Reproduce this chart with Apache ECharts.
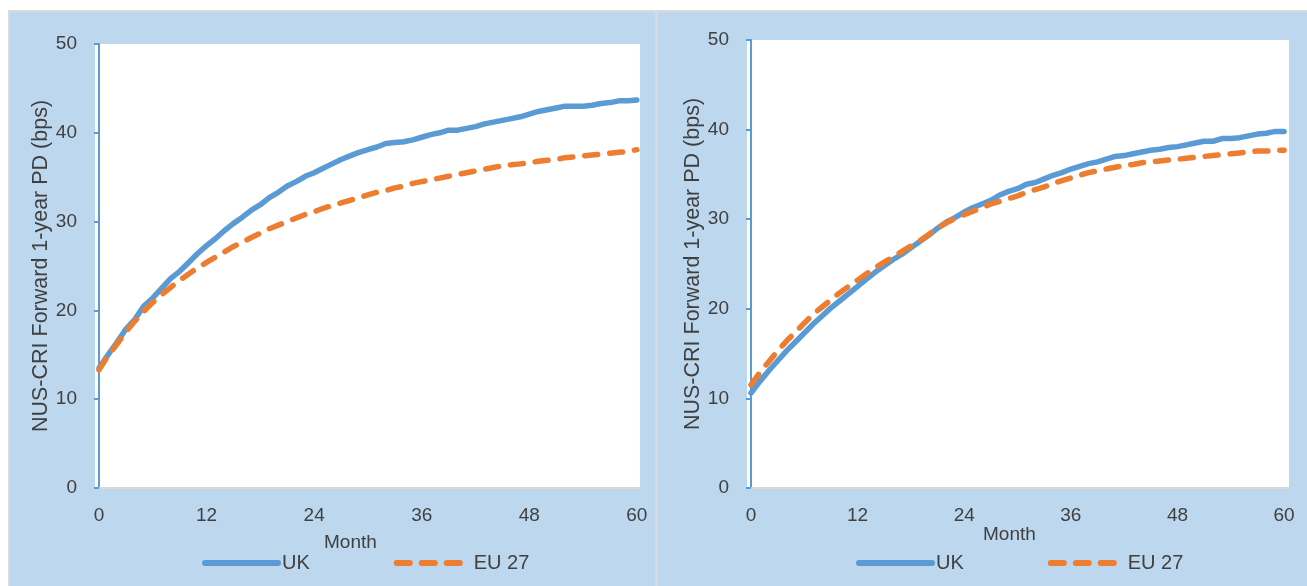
<!DOCTYPE html>
<html>
<head>
<meta charset="utf-8">
<title>NUS-CRI Forward 1-year PD</title>
<script src="https://cdn.jsdelivr.net/npm/echarts@6/dist/echarts.min.js"></script>
<style>
  html, body { margin: 0; padding: 0; background: #ffffff; }
  #chart { width: 1307px; height: 586px; }
</style>
</head>
<body>
<div id="chart"></div>
<script>
// Forward 1-year PD term structure (bps), month 0..60
const months = Array.from({ length: 61 }, (_, i) => i);
const monthTicks = [0, 12, 24, 36, 48, 60];
const pdTicks = [0, 10, 20, 30, 40, 50];

const leftUK = [
  13.5, 15.0, 16.4, 17.9, 19.0, 20.5, 21.4, 22.5, 23.6, 24.4,
  25.4, 26.4, 27.3, 28.1, 29.0, 29.8, 30.5, 31.3, 31.9, 32.7,
  33.3, 34.0, 34.5, 35.1, 35.5, 36.0, 36.5, 37.0, 37.4, 37.8,
  38.1, 38.4, 38.8, 38.9, 39.0, 39.2, 39.5, 39.8, 40.0, 40.3,
  40.3, 40.5, 40.7, 41.0, 41.2, 41.4, 41.6, 41.8, 42.1, 42.4,
  42.6, 42.8, 43.0, 43.0, 43.0, 43.1, 43.3, 43.4, 43.6, 43.6,
  43.7
];
const leftEU27 = [
  13.3, 14.9, 16.2, 17.6, 18.8, 19.9, 20.9, 21.8, 22.6, 23.4,
  24.1, 24.8, 25.4, 26.0, 26.6, 27.2, 27.7, 28.2, 28.7, 29.2,
  29.6, 30.0, 30.4, 30.8, 31.1, 31.5, 31.8, 32.1, 32.4, 32.7,
  33.0, 33.3, 33.5, 33.8, 34.0, 34.3, 34.5, 34.7, 34.9, 35.1,
  35.3, 35.5, 35.7, 35.9, 36.1, 36.3, 36.4, 36.5, 36.6, 36.8,
  36.9, 37.0, 37.2, 37.3, 37.4, 37.5, 37.6, 37.7, 37.8, 37.9,
  38.1
];
const rightUK = [
  10.6, 11.9, 13.1, 14.2, 15.3, 16.3, 17.3, 18.3, 19.2, 20.1,
  20.9, 21.7, 22.5, 23.3, 24.1, 24.8, 25.5, 26.1, 26.8, 27.5,
  28.2, 29.0, 29.7, 30.2, 30.8, 31.3, 31.7, 32.1, 32.7, 33.1,
  33.4, 33.9, 34.1, 34.5, 34.9, 35.2, 35.6, 35.9, 36.2, 36.4,
  36.7, 37.0, 37.1, 37.3, 37.5, 37.7, 37.8, 38.0, 38.1, 38.3,
  38.5, 38.7, 38.7, 39.0, 39.0, 39.1, 39.3, 39.5, 39.6, 39.8,
  39.8
];
const rightEU27 = [
  11.5, 12.9, 14.1, 15.3, 16.4, 17.4, 18.4, 19.4, 20.2, 21.0,
  21.8, 22.5, 23.2, 23.9, 24.6, 25.2, 25.8, 26.4, 27.0, 27.6,
  28.3, 29.0, 29.6, 30.1, 30.5, 30.9, 31.3, 31.7, 32.0, 32.3,
  32.6, 33.0, 33.3, 33.6, 34.0, 34.3, 34.6, 34.9, 35.2, 35.4,
  35.6, 35.8, 36.0, 36.1, 36.3, 36.4, 36.5, 36.6, 36.7, 36.8,
  36.9, 37.0, 37.1, 37.2, 37.3, 37.4, 37.5, 37.6, 37.6, 37.7,
  37.7
];

const seriesNames = ['UK', 'EU 27'];
const yTitle = 'NUS-CRI Forward 1-year PD (bps)';
const xTitle = 'Month';

const FONT = '"Liberation Sans", Arial, sans-serif';
const TEXT = '#404040';
const BLUE = '#5B9BD5';
const ORANGE = '#ED7D31';
const PANEL = '#BDD7EE';
const BORDER = '#D9D9D9';

const pairs = (ys) => ys.map((y, i) => [months[i], y]);

function xAxisFor(gridIndex, min, max) {
  return {
    gridIndex, type: 'value', min, max,
    axisLine: { show: true, lineStyle: { color: BORDER, width: 2 } },
    axisTick: { show: false },
    splitLine: { show: false },
    axisLabel: {
      customValues: monthTicks, margin: 18,
      color: TEXT, fontFamily: FONT, fontSize: 19
    }
  };
}
function yAxisFor(gridIndex, nameGap) {
  return {
    gridIndex, type: 'value', min: 0, max: 50, interval: 10,
    name: yTitle, nameLocation: 'middle', nameGap,
    nameTextStyle: { color: TEXT, fontFamily: FONT, fontSize: 21.5 },
    axisLine: { show: true, lineStyle: { color: BLUE, width: 2 } },
    axisTick: { show: true, inside: false, length: 5, lineStyle: { color: BLUE, width: 2 } },
    splitLine: { show: false },
    axisLabel: {
      margin: 18, color: TEXT, fontFamily: FONT, fontSize: 19,
      formatter: (v) => pdTicks.includes(v) ? String(v) : ''
    }
  };
}
function lineSeries(name, data, axisIndex, dashed) {
  return {
    name, type: 'line', data,
    xAxisIndex: axisIndex, yAxisIndex: axisIndex,
    symbol: 'none', smooth: false, silent: true,
    lineStyle: dashed
      ? { color: ORANGE, width: 5.5, type: [13, 12], cap: 'round' }
      : { color: BLUE, width: 5.5, cap: 'round', join: 'round' },
    itemStyle: { color: dashed ? ORANGE : BLUE },
    z: dashed ? 3 : 2
  };
}
function legendFor(left) {
  return {
    left, top: 553, orient: 'horizontal', padding: 0,
    data: seriesNames,
    itemWidth: 73, itemHeight: 14, itemGap: 84,
    itemStyle: { opacity: 0 },
    lineStyle: { width: 6 },
    textStyle: { color: TEXT, fontFamily: FONT, fontSize: 20, padding: [0, 0, 0, -1] },
    selectedMode: false
  };
}

const chart = echarts.init(document.getElementById('chart'), null, { renderer: 'canvas' });
chart.setOption({
  animation: false,
  backgroundColor: '#ffffff',
  graphic: [
    { type: 'rect', z: -100, shape: { x: 8, y: 10, width: 1299, height: 576 }, style: { fill: BORDER } },
    { type: 'rect', z: -99, shape: { x: 10, y: 12, width: 1297, height: 574 }, style: { fill: PANEL } },
    { type: 'rect', z: -98, shape: { x: 655, y: 12, width: 3, height: 574 }, style: { fill: BORDER } },
    { type: 'text', z: 10, left: 324, top: 533, style: { text: xTitle, fill: TEXT, font: '19px ' + FONT } },
    { type: 'text', z: 10, left: 983, top: 525, style: { text: xTitle, fill: TEXT, font: '19px ' + FONT } }
  ],
  grid: [
    { left: 95, top: 44, width: 545, height: 444, show: true, backgroundColor: '#ffffff', borderWidth: 0 },
    { left: 747, top: 40, width: 542, height: 448, show: true, backgroundColor: '#ffffff', borderWidth: 0 }
  ],
  xAxis: [xAxisFor(0, -0.45, 60.35), xAxisFor(1, -0.45, 60.55)],
  yAxis: [yAxisFor(0, 41), yAxisFor(1, 40)],
  legend: [legendFor(202), legendFor(856)],
  series: [
    lineSeries(seriesNames[0], pairs(leftUK), 0, false),
    lineSeries(seriesNames[1], pairs(leftEU27), 0, true),
    lineSeries(seriesNames[0], pairs(rightUK), 1, false),
    lineSeries(seriesNames[1], pairs(rightEU27), 1, true)
  ]
});
</script>
</body>
</html>
